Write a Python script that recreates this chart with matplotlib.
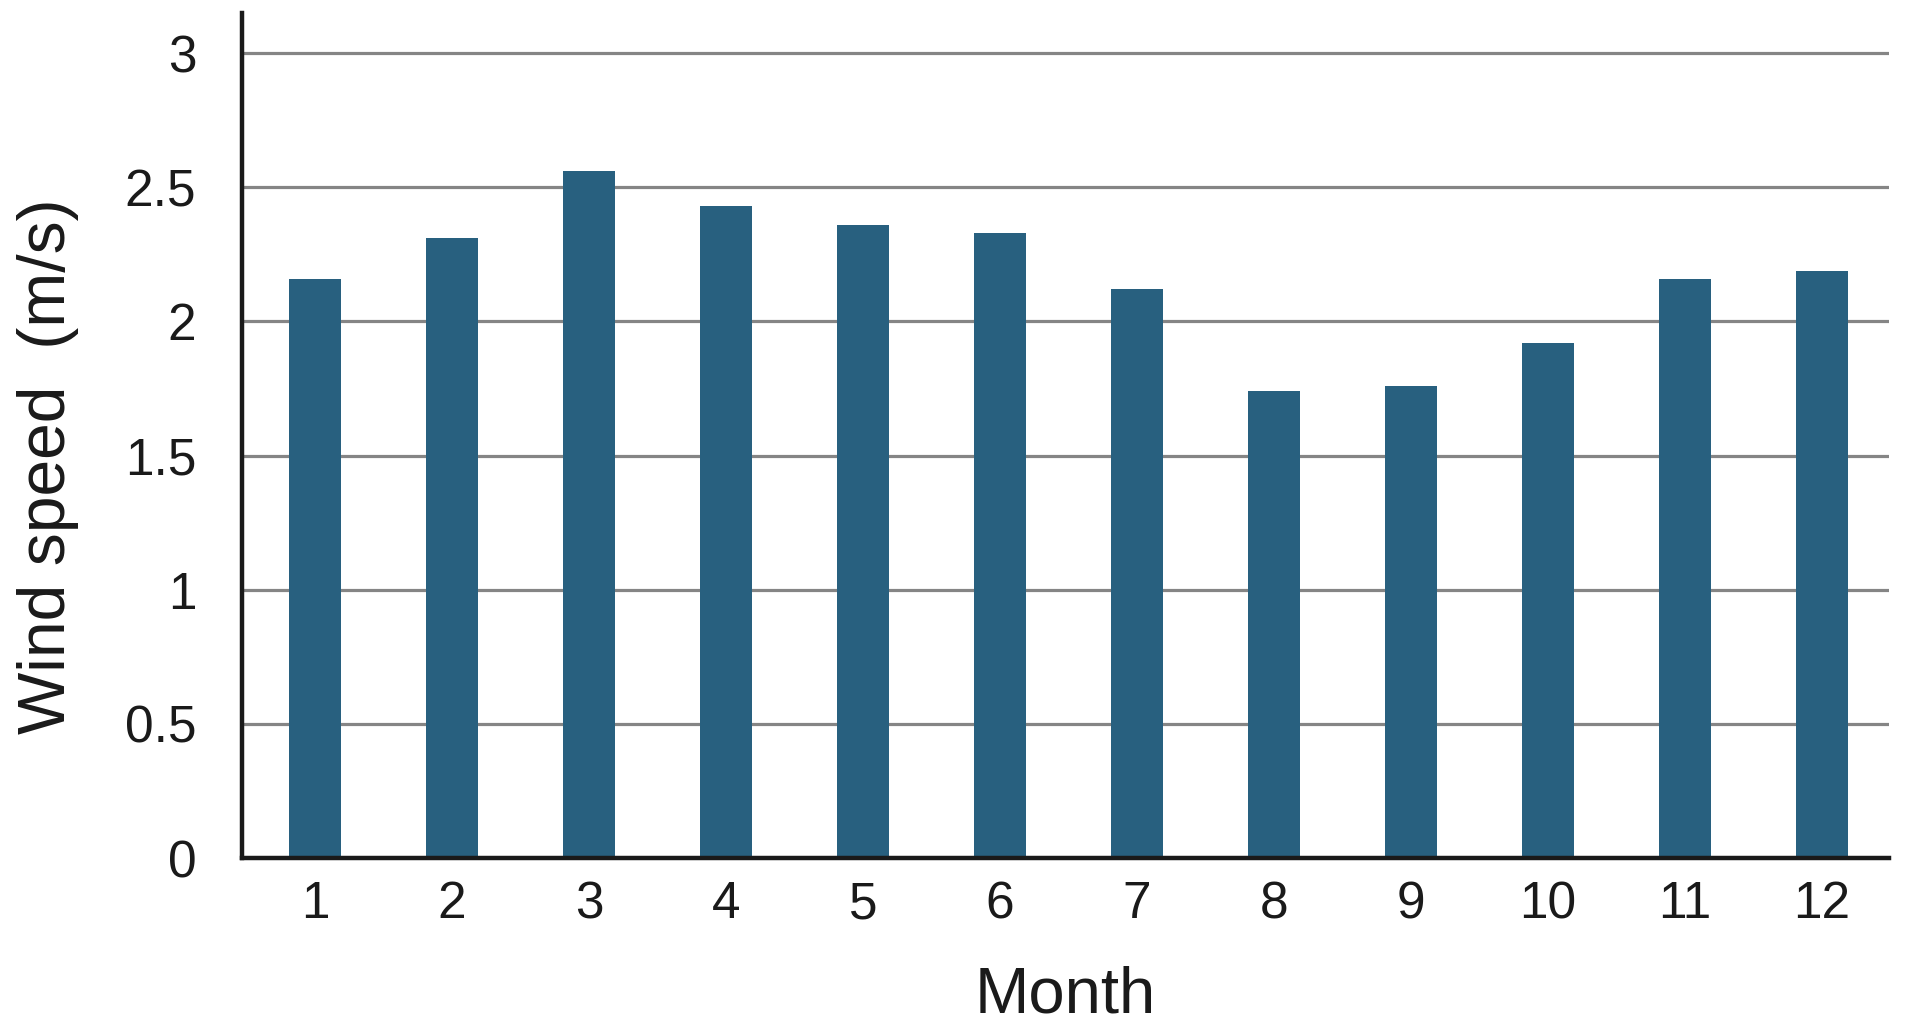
import matplotlib
matplotlib.use("Agg")
import matplotlib.pyplot as plt

# monthly mean wind speed (m/s)
months = [1, 2, 3, 4, 5, 6, 7, 8, 9, 10, 11, 12]
wind_speed = [2.16, 2.31, 2.56, 2.43, 2.36, 2.33, 2.12, 1.74, 1.76, 1.92, 2.16, 2.19]
y_ticks = [0, 0.5, 1, 1.5, 2, 2.5, 3]
y_tick_labels = ["0", "0.5", "1", "1.5", "2", "2.5", "3"]

plt.rcParams['font.family'] = ['Liberation Sans', 'DejaVu Sans']

fig = plt.figure(figsize=(19.1, 10.36), dpi=100)
ax = fig.add_axes([0.1267, 0.1718, 0.8623, 0.8154])

ax.bar(months, wind_speed, width=0.38, color="#28607f", zorder=3)

ax.set_xlim(0.467, 12.49)
ax.set_ylim(0, 3.149)
ax.set_xticks(months)
ax.set_xticklabels([str(m) for m in months])
ax.set_yticks(y_ticks)
ax.set_yticklabels(y_tick_labels)
ax.tick_params(axis="both", length=0, labelsize=37, colors="#1a1a1a")
ax.tick_params(axis="y", pad=33)
ax.tick_params(axis="x", pad=16)

# horizontal grid only
ax.grid(axis="y", color="#858585", linewidth=2.3, zorder=1)
ax.set_axisbelow(True)

for side in ["top", "right"]:
    ax.spines[side].set_visible(False)
for side in ["left", "bottom"]:
    ax.spines[side].set_linewidth(3.2)
    ax.spines[side].set_color("#1a1a1a")
    ax.spines[side].set_zorder(4)

ax.set_ylabel("Wind speed  (m/s)", fontsize=47.5, color="#1a1a1a")
ax.yaxis.set_label_coords(-0.118, 0.464)
ax.yaxis.label.set_va("center")
ax.set_xlabel("Month", fontsize=47, color="#1a1a1a")
ax.xaxis.set_label_coords(0.5, -0.183)
ax.xaxis.label.set_va("baseline")

fig.savefig("out.png", dpi=100)
